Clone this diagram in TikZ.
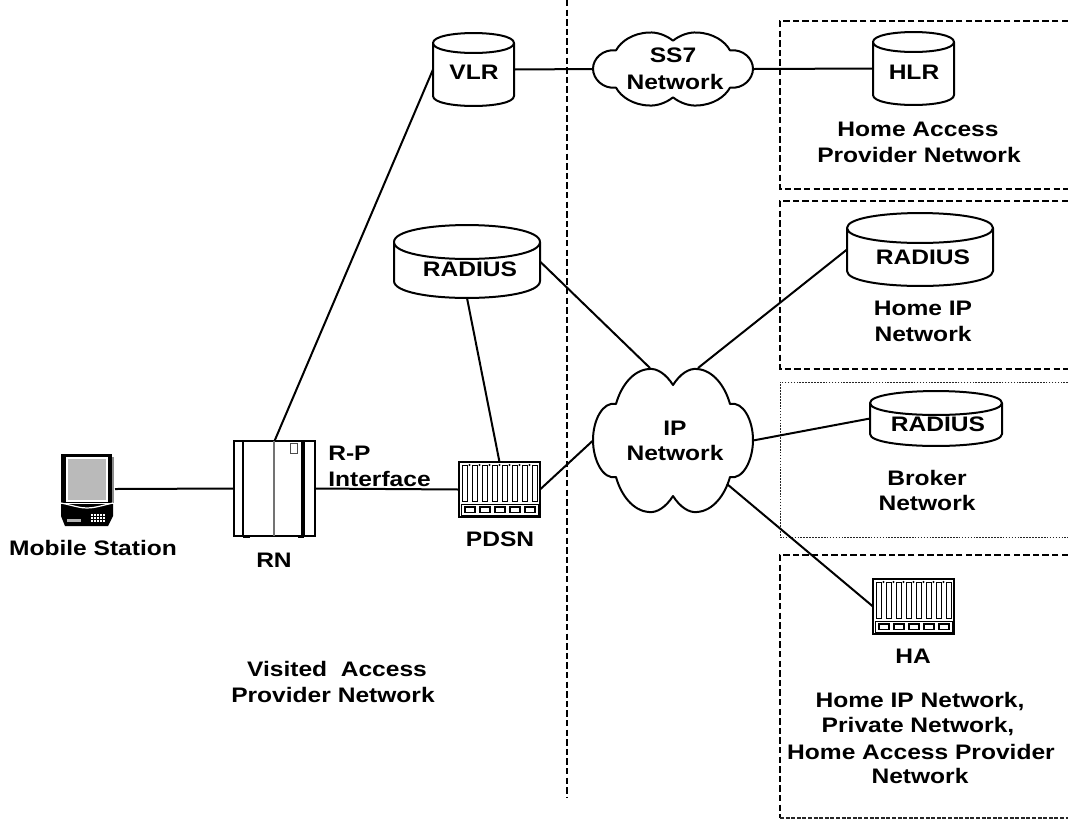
\documentclass[tikz,border=0pt]{standalone}
\usepackage{fontspec}
\setmainfont{Liberation Sans}[FakeStretch=1.17]
\newcommand{\cylshape}[6]{% name, l, t, r, b, ry
  \pgfmathsetmacro{\cts}{#3+#6}\pgfmathsetmacro{\cbs}{#5-#6}
  \pgfmathsetmacro{\cdy}{1.33*#6}
  \draw[shapeline,fill=white] (#2,\cts) .. controls (#2,\cts-\cdy) and (#4,\cts-\cdy) .. (#4,\cts)
    .. controls (#4,\cts+\cdy) and (#2,\cts+\cdy) .. (#2,\cts) -- (#2,\cbs)
    .. controls (#2,\cbs+\cdy) and (#4,\cbs+\cdy) .. (#4,\cbs) -- (#4,\cts);
  \node[ghost,minimum width={(#4-#2)*0.75pt},minimum height={(#5-#3)*0.75pt}] (#1) at ({(#2+#4)/2},{(#3+#5)/2}) {};
}
\newcommand{\cloudshape}[6]{% name, x, y, w, h, unused
  \begin{scope}[shift={(#2,#3)},xscale={#4/160},yscale={#5/145}]
  \draw[shapeline,fill=white] (80,17) .. controls (87,6) and (96,0) .. (104,1)
    .. controls (120,2) and (132,18) .. (137,36)
    .. controls (150,33) and (160,52) .. (160,72)
    .. controls (160,92) and (150,112) .. (137,109)
    .. controls (132,127) and (120,143) .. (104,144)
    .. controls (96,145) and (87,139) .. (80,128)
    .. controls (73,139) and (64,145) .. (56,144)
    .. controls (40,143) and (28,127) .. (23,109)
    .. controls (10,112) and (0,92) .. (0,72)
    .. controls (0,52) and (10,33) .. (23,36)
    .. controls (28,18) and (40,2) .. (56,1)
    .. controls (64,0) and (73,6) .. (80,17) -- cycle;
  \end{scope}
  \node[ghost,minimum width={#4*0.75pt},minimum height={#5*0.75pt}] (#1) at ({#2+#4/2},{#3+#5/2}) {};
}
\newcommand{\chassis}[3]{% name, x, y
  \begin{scope}[shift={(#2,#3)}]
  \draw[line width=1.8pt,fill=white] (0,0) rectangle (81,55);
  \foreach \sx in {3,13,23,33,43,53,63,73}{
    \draw[line width=.75pt] (\sx,3) rectangle ++(5.6,36);
  }
  \foreach \sx in {10.5,20.5,30.5,40.5,50.5,60.5,70.5}{
    \fill (\sx,3) circle[radius=1.2];
  }
  \draw[line width=.75pt] (2,42) rectangle (79,53);
  \foreach \sx in {6,21,36,51,66}{
    \draw[line width=.9pt] (\sx,45) rectangle ++(10,5.5);
  }
  \end{scope}
  \node[ghost,minimum width=60.75pt,minimum height=41.25pt] (#1) at ({#2+40.5},{#3+27.5}) {};
}
\tikzset{
  ghost/.style={inner sep=0pt,outer sep=0pt,rectangle},
  shapeline/.style={line width=1.5pt,line join=round},
  conn/.style={line width=1.5pt},
  lab/.style={inner sep=0pt,text height=11.3pt,text depth=0pt,font=\fontsize{15.75pt}{18.75pt}\selectfont\bfseries,align=center},
  dashbox/.style={line width=1.5pt,dash pattern=on 4.8pt off 2.4pt},
  dotbox/.style={line width=.6pt,dash pattern=on 1.2pt off 1pt,black!85},
}
\begin{document}
\begin{tikzpicture}[x=0.75pt,y=-0.75pt]
\useasboundingbox (0,0) rectangle (1068,819);
% dividers and domain boxes
\coordinate (divtop) at (567,0);
\coordinate (divbot) at (567,797);
\draw[dashbox] (divtop) -- (divbot);
\coordinate (a1) at (1068,21); \coordinate (a2) at (780,21);
\coordinate (a3) at (780,189); \coordinate (a4) at (1068,189);
\draw[dashbox] (a1) -- (a2) -- (a3) -- (a4);
\coordinate (b1) at (1068,201); \coordinate (b2) at (780,201);
\coordinate (b3) at (780,369); \coordinate (b4) at (1068,369);
\draw[dashbox] (b1) -- (b2) -- (b3) -- (b4);
\coordinate (c1) at (1068,382); \coordinate (c2) at (780,382);
\coordinate (c3) at (780,537); \coordinate (c4) at (1068,537);
\draw[dotbox] (c1) -- (c2) -- (c3) -- (c4);
\coordinate (d1) at (1068,555); \coordinate (d2) at (780,555);
\coordinate (d3) at (780,818); \coordinate (d4) at (1068,818);
\draw[dashbox] (d1) -- (d2) -- (d3);
\draw[dotbox,line width=.9pt,dash pattern=on 3pt off 1.2pt] (d3) -- (d4);
% shapes
\cylshape{vlr}{433}{33}{514}{106}{10}
\cylshape{hlr}{873}{32}{954}{105}{10}
\cylshape{radl}{394}{225}{540}{298}{17}
\cylshape{radr}{847}{213}{993}{286}{15}
\cylshape{radb}{870}{391}{1002}{446}{12}
\cloudshape{ss7}{593}{32}{160}{74}{}
\cloudshape{ip}{593}{368}{160}{145}{}
\chassis{pdsn}{459}{462}
\chassis{ha}{873}{579}
% RN
\node[ghost,draw,line width=1.2pt,minimum width=60.75pt,minimum height=71.25pt] (rn) at (274.5,488.5) {};
\draw[line width=1.8pt] (243,441) -- (243,536);
\draw[line width=3pt] (303,441) -- (303,536);
\draw[line width=1pt,black!55] (274,441) -- (274,536);
\draw[line width=.7pt,black!70] (290,443) rectangle (297,453);
\fill (243,535) rectangle (250,538);
\fill (298,535) rectangle (304,538);
% Mobile station
\fill[black!45] (112,457) rectangle (114,503);
\fill (61,454) rectangle (112,503);
\draw[line width=.8pt,white,fill=black!27] (67,458) rectangle (107,501);
\fill (61,504) -- (61,516) -- (65,526) -- (108,526) -- (113,516) -- (113,504) -- cycle;
\draw[line width=.9pt,white] (61,503) .. controls (75,506) and (80,508) .. (87,508) .. controls (94,508) and (100,506) .. (113,503);
\fill[black!30] (67,519) rectangle (81,522);
\foreach \ky in {514,517,520}{
  \foreach \kx in {91,94,97,100,103}{
    \fill[white] (\kx,\ky) rectangle ++(2,1.6);
  }
}
\node[ghost,minimum width=40.5pt,minimum height=54pt] (ms) at (88,489) {};
% connectors
\coordinate (ipnw) at (650,368);
\coordinate (ipne) at (698,368);
\coordinate (ipse) at (727,484);
\draw[conn] (ms.east) -- (rn.west);
\draw[conn] (rn.east) -- (pdsn.west);
\draw[conn] (rn.north) -- (vlr.west);
\draw[conn] (vlr.east) -- (ss7.west);
\draw[conn] (ss7.east) -- (hlr.west);
\draw[conn] (radl.south) -- (pdsn.north);
\draw[conn] (radl.east) -- (ipnw);
\draw[conn] (radr.west) -- (ipne);
\draw[conn] (pdsn.east) -- (ip.west);
\draw[conn] (ip.east) -- (radb.west);
\draw[conn] (ipse) -- (ha.west);
% labels
\node[lab] (tms) at (93,548) {Mobile Station};
\node[lab] (trn) at (274,560) {RN};
\node[lab,anchor=west] (trp) at (328,453) {R-P};
\node[lab,anchor=west] (tif) at (328,479) {Interface};
\node[lab] (tpd) at (500,539) {PDSN};
\node[lab] (tv1) at (337,669) {Visited\ \ Access};
\node[lab] (tv2) at (333,695) {Provider Network};
\node[lab] (tvlr) at (474,72) {VLR};
\node[lab] (trl) at (470,269) {RADIUS};
\node[lab] (ts1) at (673,55) {SS7};
\node[lab] (ts2) at (675,82) {Network};
\node[lab] (tip1) at (675,428) {IP};
\node[lab] (tip2) at (675,453) {Network};
\node[lab] (thlr) at (914,72) {HLR};
\node[lab] (th1) at (918,129) {Home Access};
\node[lab] (th2) at (919,155) {Provider Network};
\node[lab] (trr) at (923,257) {RADIUS};
\node[lab] (tr1) at (923,308) {Home IP};
\node[lab] (tr2) at (923,334) {Network};
\node[lab] (trb) at (938,424) {RADIUS};
\node[lab] (tb1) at (927,478) {Broker};
\node[lab] (tb2) at (927,503) {Network};
\node[lab] (tha) at (913,656) {HA};
\node[lab] (tp1) at (920,700) {Home IP Network,};
\node[lab] (tp2) at (918,725) {Private Network,};
\node[lab] (tp3) at (921,752) {Home Access Provider};
\node[lab] (tp4) at (920,776) {Network};
\end{tikzpicture}
\end{document}
